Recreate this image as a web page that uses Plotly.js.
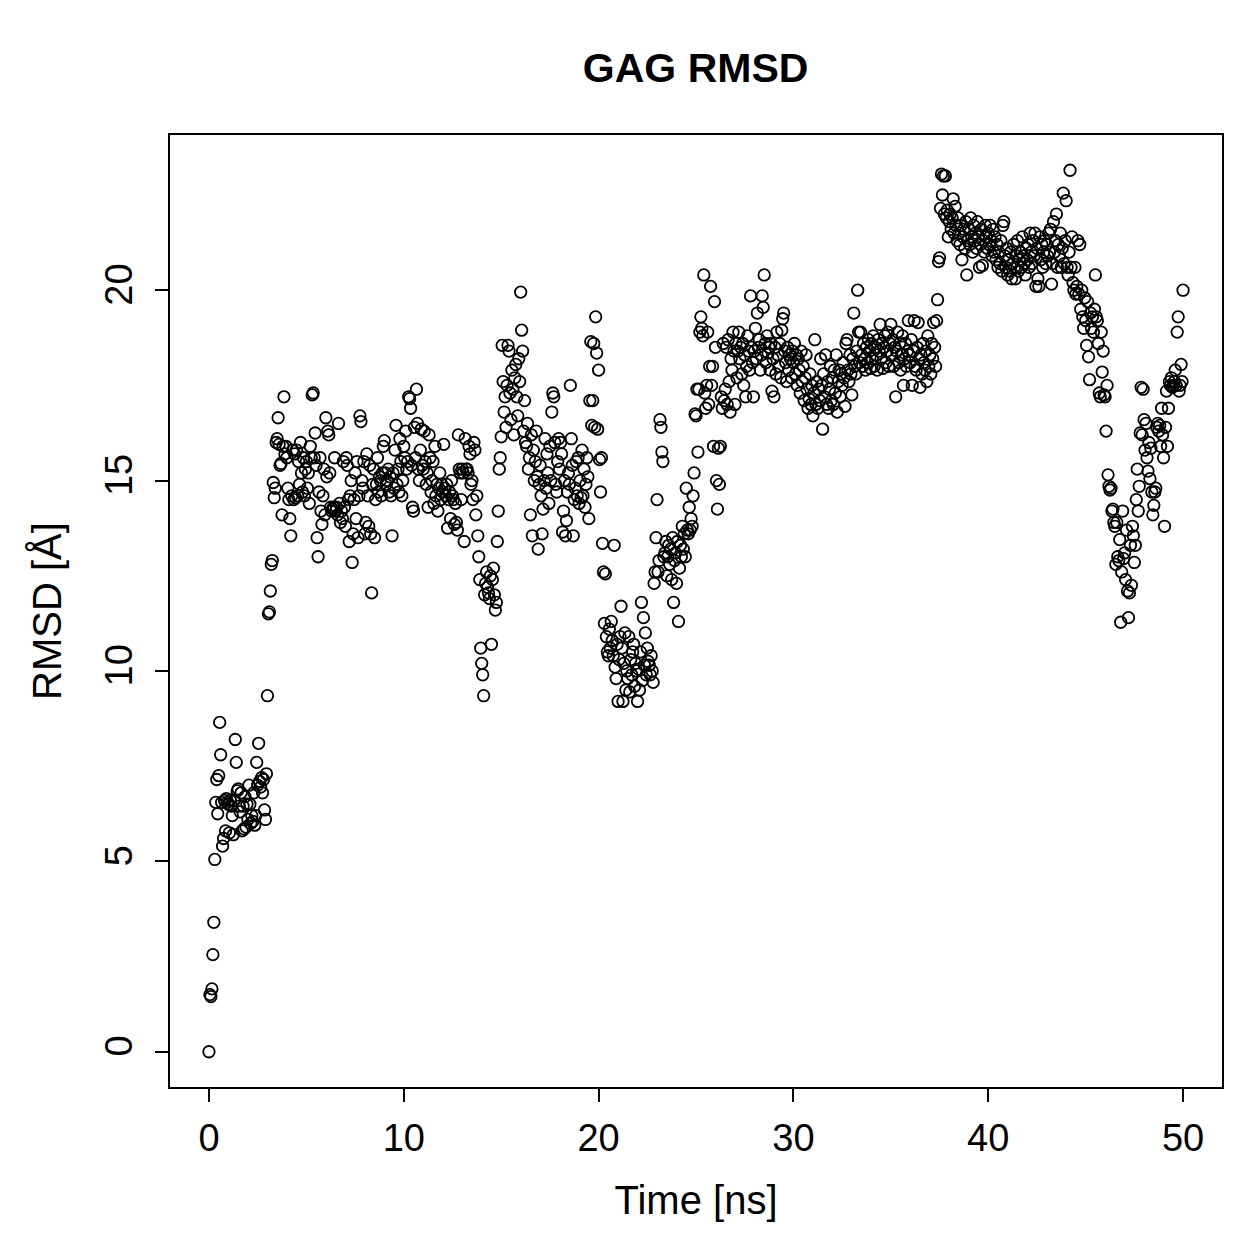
<!DOCTYPE html>
<html>
<head>
<meta charset="utf-8">
<script src="https://cdn.plot.ly/plotly-3.0.1.min.js"></script>
<style>html,body{margin:0;padding:0;background:#fff;}#chart{width:1259px;height:1259px;}</style>
</head>
<body>
<div id="chart"></div>
<script>
// Sampling interval of the trajectory (ns)
const timeStepNs = 0.05;

// RMSD values (Å), one per frame, in 5 ns blocks
const rmsd_00_05 = [
0,1.5,1.45,1.65,2.55,3.4,5.05,6.55,7.15,6.25,7.25,8.65,7.8,6.55,5.4,5.6,6.6,5.8,6.65,6.55,
6.5,5.75,6.6,6.45,6.2,5.7,6.6,8.2,7.6,6.85,6.9,6.45,6.3,6.8,5.8,6.45,5.85,6.7,5.9,6.5,
6.1,7.0,6.5,6.0,6.2,6.05,6.8,5.95,6.2,7.6,7.0,8.1,7.1,6.95,7.2,6.8,7.15,6.35,6.1,7.3,
9.35,11.5,11.55,12.1,12.8,12.9,14.95,14.55,14.8,16.0,16.1,16.65,15.95,15.4,15.45,14.1,15.9,17.2,15.7,15.9,
15.6,14.8,14.5,14.0,13.55,14.6,15.8,14.5,15.7,14.55,15.8,14.6,15.5,14.9,16.0,15.2,14.7,15.6,14.6,15.3];
const rmsd_05_10 = [
15.5,14.8,15.2,14.4,15.9,15.6,17.25,17.3,15.6,16.25,15.4,13.5,13.0,14.7,15.6,14.2,13.85,14.6,15.3,14.1,
16.65,15.1,16.3,16.2,15.2,14.3,14.2,14.25,14.3,15.6,14.2,14.3,14.1,16.5,14.4,13.9,14.2,14.0,15.5,14.3,
13.8,15.6,15.4,14.5,13.4,14.6,15.0,12.85,13.6,14.5,15.2,14.0,15.5,13.5,14.6,16.7,16.55,15.0,14.8,15.5,
13.6,13.9,15.7,14.6,13.8,15.4,13.6,12.05,14.9,15.3,13.5,14.5,14.9,15.6,14.7,15.1,15.0,14.6,15.2,15.9,
16.05,15.2,14.9,15.0,15.3,14.7,15.1,14.6,13.55,15.2,14.8,15.8,16.45,14.9,15.3,14.7,16.1,15.5,14.6,15.0];
const rmsd_10_15 = [
15.9,15.6,16.3,15.3,15.5,17.2,17.15,16.9,15.4,14.3,14.2,16.4,15.6,17.4,16.5,15.3,15.0,15.8,16.35,15.4,
15.3,16.3,15.5,14.9,15.2,14.3,16.2,15.6,14.7,15.0,15.5,14.4,15.9,14.6,14.9,14.2,14.8,15.2,14.5,14.9,
14.7,15.95,14.8,14.6,14.9,13.75,14.5,14.7,14.0,15.0,14.6,14.5,13.85,14.4,13.9,13.7,16.2,15.3,15.2,14.5,
15.3,15.2,13.4,16.1,15.3,15.3,15.2,15.9,15.7,14.9,15.0,14.5,16.0,15.8,14.1,14.6,13.55,13.0,12.4,10.6,
10.2,9.9,9.35,12.0,12.3,12.6,12.2,12.05,11.9,12.5,10.7,12.4,12.7,12.0,11.6,11.8,13.4,14.2,15.3,15.6];
const rmsd_15_20 = [
16.15,18.55,17.6,16.8,17.2,16.4,17.5,18.55,18.4,17.3,16.6,17.9,17.4,16.2,17.7,18.05,17.2,16.7,18.2,17.6,
19.95,18.95,18.4,16.3,17.1,16.0,15.9,16.5,15.3,15.6,14.1,16.2,13.55,15.8,15.0,15.5,16.3,15.1,13.2,14.9,
15.4,14.6,13.6,14.25,15.0,16.1,14.8,15.7,15.2,14.4,15.9,15.0,16.8,17.3,17.2,16.0,14.9,14.7,15.5,16.1,
15.3,16.0,15.7,13.65,14.2,15.0,13.55,13.95,14.7,15.2,14.9,17.5,16.1,15.4,13.55,14.5,14.8,15.5,14.6,15.6,
14.4,15.0,14.55,15.8,14.6,15.3,14.3,14.9,15.6,15.1,14.0,17.1,18.65,16.45,17.1,18.6,16.4,19.3,18.35,16.35];
const rmsd_20_25 = [
17.9,15.55,14.7,15.6,13.35,12.6,11.25,12.55,10.9,10.5,10.4,11.1,10.6,11.3,10.8,10.4,13.3,10.1,9.8,10.7,
9.2,10.3,10.9,11.7,10.6,9.2,10.2,11.0,9.5,10.0,9.8,10.9,9.45,10.3,9.9,10.5,10.7,9.6,10.2,10.0,
9.2,10.05,9.5,10.5,11.8,9.75,11.4,10.15,11.0,9.9,10.6,10.25,10.15,9.9,10.4,10.0,9.7,12.3,12.6,13.5,
14.5,12.6,12.9,16.6,16.4,15.75,15.5,13.0,13.1,13.4,12.5,13.0,13.3,12.8,13.2,12.4,13.5,11.8,12.9,13.1,
12.3,13.4,11.3,12.7,13.3,13.0,13.8,13.2,13.6,13.0,14.8,13.7,13.6,14.3,13.7,14.0,13.8,14.6,15.2,16.75];
const rmsd_25_30 = [
16.7,17.4,15.75,17.4,18.9,19.3,19.0,18.8,20.4,17.3,16.9,17.5,18.9,17.0,18.0,20.1,17.5,18.0,15.9,19.7,
18.5,15.0,14.25,15.85,14.9,15.9,17.2,16.9,18.6,17.1,17.4,18.5,17.0,18.7,17.6,16.8,18.2,17.9,18.9,18.4,
17.0,18.6,17.7,18.4,18.9,18.2,18.5,17.8,18.6,17.5,18.3,17.2,18.0,18.8,18.4,17.9,19.85,18.5,18.1,17.2,
18.4,19.0,18.2,19.4,18.5,18.7,17.9,18.3,19.85,19.55,20.4,18.6,18.1,18.8,18.35,18.5,17.9,18.6,17.35,18.2,
17.2,18.5,17.8,18.9,18.3,18.0,18.6,17.7,18.95,19.25,19.4,18.4,18.1,17.6,18.5,17.9,18.3,18.2,17.7,18.4];
const rmsd_30_35 = [
18.1,18.6,17.8,18.3,17.5,18.2,17.9,17.3,18.4,17.6,18.0,17.1,17.7,18.3,17.4,16.9,17.15,17.8,17.0,17.5,
16.7,17.3,18.7,17.0,17.6,16.9,17.4,17.1,18.2,17.5,16.35,17.8,17.2,18.3,17.0,17.6,16.9,17.4,18.0,17.1,
17.7,17.0,17.9,17.3,18.3,16.8,17.6,17.9,17.2,17.8,17.5,18.1,17.7,16.95,18.6,18.7,17.9,17.6,18.3,17.8,
17.25,18.2,19.4,18.0,17.8,18.4,20.0,18.9,18.1,18.9,18.3,18.0,18.6,18.2,17.9,18.5,18.1,18.7,18.4,17.95,
18.6,18.2,18.8,18.0,18.5,18.3,17.9,18.7,18.4,19.1,18.2,18.6,17.95,18.5,18.8,18.1,18.4,18.9,18.0,18.6];
const rmsd_35_40 = [
19.1,18.3,18.7,18.0,18.5,17.2,18.4,18.9,18.1,18.6,17.9,18.3,18.8,17.5,18.2,18.6,18.0,18.4,19.2,18.3,
18.1,18.7,17.5,18.4,19.2,18.0,17.9,18.5,19.15,18.2,17.45,18.3,17.8,18.6,18.1,17.9,18.4,17.6,18.8,18.0,
18.3,17.8,18.6,18.2,19.15,18.5,18.0,19.2,19.75,20.75,20.85,22.15,23.05,22.5,23.0,22.0,23.0,21.9,22.1,21.4,
21.8,22.0,21.6,21.9,22.4,21.5,22.2,21.7,21.3,21.9,21.5,21.2,21.7,20.8,21.4,21.6,21.1,21.8,20.4,21.3,
21.6,21.2,21.9,21.4,21.0,21.7,21.3,21.5,21.1,21.8,21.4,20.6,21.2,21.6,20.65,21.3,21.0,21.7,21.4,21.1];
const rmsd_40_45 = [
21.5,21.2,21.7,21.3,20.9,21.6,21.0,21.4,20.8,21.2,20.6,21.0,20.7,21.3,20.5,21.7,21.8,20.9,20.6,21.1,
20.4,20.8,20.5,21.0,20.3,20.7,21.2,20.6,20.3,20.9,21.3,20.5,20.8,21.0,20.6,21.4,20.9,20.7,20.4,21.1,
20.8,21.2,20.6,21.5,21.0,20.7,21.3,20.9,21.5,20.1,21.1,20.3,20.1,21.4,20.8,21.2,20.6,21.0,21.3,20.7,
21.2,20.9,21.5,21.0,21.6,20.16,20.7,21.8,21.0,21.3,22.0,20.6,21.2,20.9,21.5,20.6,21.1,22.55,20.7,21.3,
22.35,20.6,20.4,21.0,23.15,20.6,21.4,20.2,20.0,20.6,19.9,20.1,21.3,19.9,21.2,19.5,20.0,19.3,19.0,19.8];
const rmsd_45_50 = [
19.2,18.55,19.7,18.25,17.65,19.4,19.0,19.3,18.9,19.5,20.4,19.3,19.2,18.6,17.3,17.2,18.9,17.85,18.4,17.25,
17.2,16.3,17.5,15.15,14.85,14.75,14.8,14.2,14.25,13.9,13.8,12.8,13.9,13.0,12.9,13.45,11.28,12.6,14.2,12.95,
13.1,12.4,13.7,12.1,11.4,12.05,13.3,12.25,13.8,13.55,12.85,13.3,14.5,15.3,14.2,14.85,16.25,17.45,16.2,17.4,
16.6,15.8,16.5,15.6,15.25,16.0,15.05,15.85,14.7,14.1,14.35,14.7,14.8,16.4,16.5,16.3,16.45,15.9,16.9,16.2,
15.6,13.8,16.4,17.35,15.9,16.9,17.6,17.5,17.7,17.45,17.5,17.6,17.9,17.5,18.9,19.3,17.35,17.5,18.05,17.6];
const rmsd_last = [20.0];

const xTicks = [0, 10, 20, 30, 40, 50];
const yTicks = [0, 5, 10, 15, 20];

const rmsd = [].concat(rmsd_00_05, rmsd_05_10, rmsd_10_15, rmsd_15_20, rmsd_20_25,
  rmsd_25_30, rmsd_30_35, rmsd_35_40, rmsd_40_45, rmsd_45_50, rmsd_last);
const time = rmsd.map((_, i) => Math.round(i * timeStepNs * 100) / 100);

const FONT = '"Liberation Sans", Arial, Helvetica, sans-serif';
const axisCommon = {
  showline: true, mirror: true, linecolor: '#000', linewidth: 2,
  ticks: 'outside', ticklen: 13, tickwidth: 2, tickcolor: '#000',
  showgrid: false, zeroline: false,
  tickfont: {family: FONT, size: 38, color: '#000'}
};

const trace = {
  x: time, y: rmsd, type: 'scatter', mode: 'markers',
  marker: {symbol: 'circle-open', size: 11.5, color: '#000', line: {width: 1.8, color: '#000'}},
  hoverinfo: 'x+y'
};

const layout = {
  width: 1259, height: 1259,
  margin: {l: 170, r: 37, t: 135, b: 172},
  paper_bgcolor: '#fff', plot_bgcolor: '#fff',
  showlegend: false,
  font: {family: FONT, color: '#000'},
  title: {text: '<b>GAG RMSD</b>', font: {family: FONT, size: 41, color: '#000'},
          x: 0.5525, xanchor: 'center', y: 0.946, yanchor: 'middle'},
  xaxis: Object.assign({}, axisCommon, {
    range: [-2, 52], tickvals: xTicks, ticktext: xTicks.map(String),
    ticklabelstandoff: 3,
    title: {text: 'Time [ns]', font: {family: FONT, size: 40, color: '#000'}, standoff: 28}
  }),
  yaxis: Object.assign({}, axisCommon, {
    range: [-0.926, 24.076], tickvals: yTicks, ticktext: yTicks.map(String),
    tickangle: -90, ticklabelstandoff: 8,
    title: {text: 'RMSD [Å]', font: {family: FONT, size: 40, color: '#000'}, standoff: 24}
  })
};

Plotly.newPlot('chart', [trace], layout, {displayModeBar: false, staticPlot: true});
</script>
</body>
</html>
